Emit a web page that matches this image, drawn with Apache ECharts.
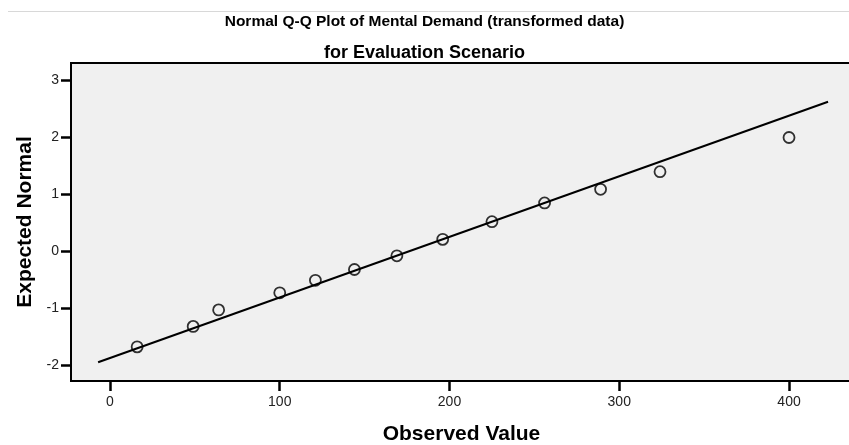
<!DOCTYPE html>
<html>
<head>
<meta charset="utf-8">
<script src="https://cdn.jsdelivr.net/npm/echarts@6/dist/echarts.min.js"></script>
<style>
html,body{margin:0;padding:0;background:#fff;}
#chart{width:849px;height:445px;}
</style>
</head>
<body>
<div id="chart"></div>
<script>
// Observed values (x) and expected normal values (y)
const observed = [16, 49, 64, 100, 121, 144, 169, 196, 225, 256, 289, 324, 400];
const expectedNormal = [-1.68, -1.32, -1.03, -0.73, -0.51, -0.32, -0.08, 0.21, 0.52, 0.85, 1.09, 1.40, 2.00];
// Reference normal line endpoints
const refLineX = [-7, 423];
const refLineY = [-1.95, 2.63];
// Tick labels
const xTicks = [0, 100, 200, 300, 400];
const yTicks = [-2, -1, 0, 1, 2, 3];

const FONT = 'Arial, "Liberation Sans", sans-serif';
const chart = echarts.init(document.getElementById('chart'), null, {renderer: 'canvas'});

chart.setOption({
  animation: false,
  backgroundColor: '#ffffff',
  title: [
    {text: 'Normal Q-Q Plot of Mental Demand (transformed data)', left: 'center', top: 9,
     textStyle: {fontFamily: FONT, fontSize: 15.5, fontWeight: 'bold', color: '#000'}},
    {text: 'for Evaluation Scenario', left: 'center', top: 39,
     textStyle: {fontFamily: FONT, fontSize: 18, fontWeight: 'bold', color: '#000'}}
  ],
  graphic: [
    {type: 'line', shape: {x1: 8, y1: 11.5, x2: 849, y2: 11.5}, style: {stroke: '#d8d8d8', lineWidth: 1}, z: 0}
  ],
  grid: {
    left: 71, top: 63, right: -3, bottom: 64,
    show: true, backgroundColor: '#f0f0f0', borderColor: '#000', borderWidth: 2,
    containLabel: false,
    outerBoundsMode: 'none'
  },
  xAxis: {
    type: 'value', min: -22.97, max: 437.1,
    name: 'Observed Value', nameLocation: 'middle', nameGap: 43,
    nameTextStyle: {fontFamily: FONT, fontSize: 21, fontWeight: 'bold', color: '#000'},
    axisLine: {show: false, onZero: false},
    splitLine: {show: false},
    axisTick: {show: true, inside: false, length: 10, lineStyle: {color: '#000', width: 2.5}, customValues: xTicks},
    axisLabel: {fontFamily: FONT, fontSize: 14, color: '#222', margin: 14, customValues: xTicks}
  },
  yAxis: {
    type: 'value', min: -2.28, max: 3.31,
    name: 'Expected Normal', nameLocation: 'middle', nameGap: 34, nameRotate: 90,
    nameTextStyle: {fontFamily: FONT, fontSize: 21, fontWeight: 'bold', color: '#000'},
    axisLine: {show: false, onZero: false},
    splitLine: {show: false},
    axisTick: {show: true, inside: false, length: 10, lineStyle: {color: '#000', width: 2.5}, customValues: yTicks},
    axisLabel: {fontFamily: FONT, fontSize: 14, color: '#222', margin: 12, customValues: yTicks}
  },
  series: [
    {
      type: 'line',
      data: refLineX.map((x, i) => [x, refLineY[i]]),
      symbol: 'none',
      lineStyle: {color: '#000', width: 2},
      z: 2
    },
    {
      type: 'scatter',
      data: observed.map((x, i) => [x, expectedNormal[i]]),
      symbol: 'circle',
      symbolSize: 11,
      itemStyle: {color: 'rgba(0,0,0,0)', borderColor: '#000', borderWidth: 1.8},
      z: 3
    }
  ]
});
</script>
</body>
</html>
